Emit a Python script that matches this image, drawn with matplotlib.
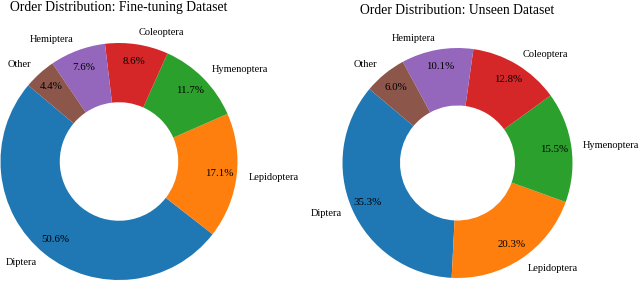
import matplotlib
matplotlib.use("Agg")
import matplotlib.pyplot as plt

# Data
orders = ['Diptera', 'Lepidoptera', 'Hymenoptera', 'Coleoptera', 'Hemiptera', 'Other']
finetune_pct = [50.6, 17.1, 11.7, 8.6, 7.6, 4.4]
unseen_pct = [35.3, 20.3, 15.5, 12.8, 10.1, 6.0]
colors = ['#1f77b4', '#ff7f0e', '#2ca02c', '#d62728', '#9467bd', '#8c564b']

plt.rcParams['font.family'] = ['Liberation Serif', 'DejaVu Serif']

W, H = 640, 282
fig = plt.figure(figsize=(W / 100, H / 100), dpi=100)


def donut(cx, cy, r, values, title, title_y):
    # axes box is exactly the pie's outer circle (pixel coords, y from top)
    ax = fig.add_axes([(cx - r) / W, (H - cy - r) / H, 2 * r / W, 2 * r / H])
    wedges, texts, pcts = ax.pie(values, labels=orders, colors=colors, startangle=140,
                                 autopct='%1.1f%%', pctdistance=0.85, labeldistance=1.1,
                                 wedgeprops=dict(width=0.5),
                                 textprops=dict(fontsize=7.5))
    for t in pcts:
        t.set_fontsize(7.8)
    ax.set_xlim(-1, 1)
    ax.set_ylim(-1, 1)
    ax.set_aspect('equal')
    fig.text(cx / W, 1 - title_y / H, title, ha='center', va='top', fontsize=9.8)


donut(119, 161.5, 118.5, finetune_pct, 'Order Distribution: Fine-tuning Dataset', 1)
donut(457.5, 163, 115, unseen_pct, 'Order Distribution: Unseen Dataset', 4)

plt.savefig('out.png', dpi=100)
